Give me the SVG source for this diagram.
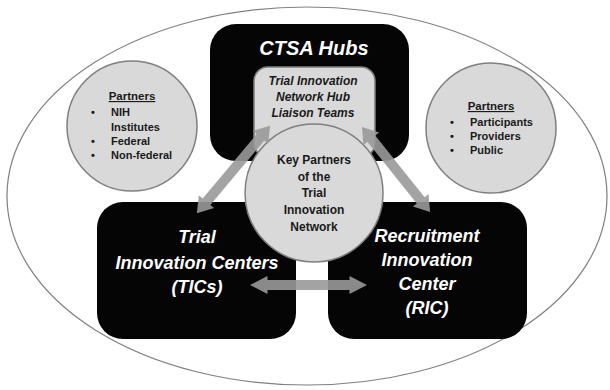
<svg xmlns="http://www.w3.org/2000/svg" width="610" height="390" viewBox="0 0 610 390">
  <style>
    .box { fill: #050505; }
    .lt { fill: #d9d9d9; stroke: #7f7f7f; stroke-width: 1.5; }
    .wt { font-family: "Liberation Sans", Arial, sans-serif; font-weight: bold; font-style: italic; fill: #ffffff; text-anchor: middle; }
    .dk { font-family: "Liberation Sans", Arial, sans-serif; font-weight: bold; fill: #1a1a1a; }
    .arr { fill: #999999; opacity: 0.9; }
  </style>
  <rect width="610" height="390" fill="#ffffff"/>
  <ellipse cx="307" cy="196" rx="300" ry="189" fill="none" stroke="#808080" stroke-width="1.2"/>

  <g id="partners-left">
    <circle class="lt" cx="132" cy="126" r="65"/>
    <text class="dk" x="132" y="100" font-size="11.5" text-anchor="middle" text-decoration="underline">Partners</text>
    <text class="dk" x="93" y="116" font-size="11" text-anchor="middle">•</text>
    <text class="dk" x="111" y="116" font-size="11">NIH</text>
    <text class="dk" x="111" y="131" font-size="11">Institutes</text>
    <text class="dk" x="93" y="145" font-size="11" text-anchor="middle">•</text>
    <text class="dk" x="111" y="145" font-size="11">Federal</text>
    <text class="dk" x="93" y="159" font-size="11" text-anchor="middle">•</text>
    <text class="dk" x="111" y="159" font-size="11">Non-federal</text>
  </g>

  <g id="partners-right">
    <circle class="lt" cx="491" cy="128" r="65"/>
    <text class="dk" x="491" y="110" font-size="11.5" text-anchor="middle" text-decoration="underline">Partners</text>
    <text class="dk" x="452" y="126" font-size="11" text-anchor="middle">•</text>
    <text class="dk" x="470" y="126" font-size="11">Participants</text>
    <text class="dk" x="452" y="140" font-size="11" text-anchor="middle">•</text>
    <text class="dk" x="470" y="140" font-size="11">Providers</text>
    <text class="dk" x="452" y="154" font-size="11" text-anchor="middle">•</text>
    <text class="dk" x="470" y="154" font-size="11">Public</text>
  </g>

  <g id="ctsa-hubs">
    <rect class="box" x="210" y="24" width="199" height="137" rx="26"/>
    <text class="wt" x="314" y="55" font-size="20">CTSA Hubs</text>
  </g>

  <g id="liaison-teams">
    <rect class="lt" x="254" y="67" width="121" height="90" rx="14"/>
    <text class="dk" x="313" y="85" font-size="12" font-style="italic" text-anchor="middle">Trial Innovation</text>
    <text class="dk" x="313" y="101" font-size="12" font-style="italic" text-anchor="middle">Network Hub</text>
    <text class="dk" x="313" y="117" font-size="12" font-style="italic" text-anchor="middle">Liaison Teams</text>
  </g>

  <g id="tics">
    <rect class="box" x="97" y="202" width="199" height="137" rx="26"/>
    <text class="wt" x="197" y="243" font-size="18">Trial</text>
    <text class="wt" x="197" y="269" font-size="18">Innovation Centers</text>
    <text class="wt" x="197" y="293" font-size="18">(TICs)</text>
  </g>

  <g id="ric">
    <rect class="box" x="328" y="202" width="199" height="137" rx="26"/>
    <text class="wt" x="427" y="242" font-size="18">Recruitment</text>
    <text class="wt" x="427" y="266" font-size="18">Innovation</text>
    <text class="wt" x="427" y="290" font-size="18">Center</text>
    <text class="wt" x="427" y="314" font-size="18">(RIC)</text>
  </g>

  <g id="key-partners">
    <circle class="lt" cx="314" cy="193" r="69"/>
    <text class="dk" x="314" y="164" font-size="12" text-anchor="middle">Key Partners</text>
    <text class="dk" x="314" y="181" font-size="12" text-anchor="middle">of the</text>
    <text class="dk" x="314" y="197" font-size="12" text-anchor="middle">Trial</text>
    <text class="dk" x="314" y="214" font-size="12" text-anchor="middle">Innovation</text>
    <text class="dk" x="314" y="231" font-size="12" text-anchor="middle">Network</text>
  </g>

  <g id="connectors">
    <polygon class="arr" transform="translate(233.5,169.5) rotate(130)" points="-57,0 -42,-10 -42,-5 42,-5 42,-10 57,0 42,10 42,5 -42,5 -42,10"/>
    <polygon class="arr" transform="translate(396,169.5) rotate(51.3)" points="-54.5,0 -39.5,-10 -39.5,-5 39.5,-5 39.5,-10 54.5,0 39.5,10 39.5,5 -39.5,5 -39.5,10"/>
    <polygon class="arr" transform="translate(308.5,285)" points="-58.5,0 -41,-9 -41,-5 41,-5 41,-9 58.5,0 41,9 41,5 -41,5 -41,9"/>
  </g>
</svg>
